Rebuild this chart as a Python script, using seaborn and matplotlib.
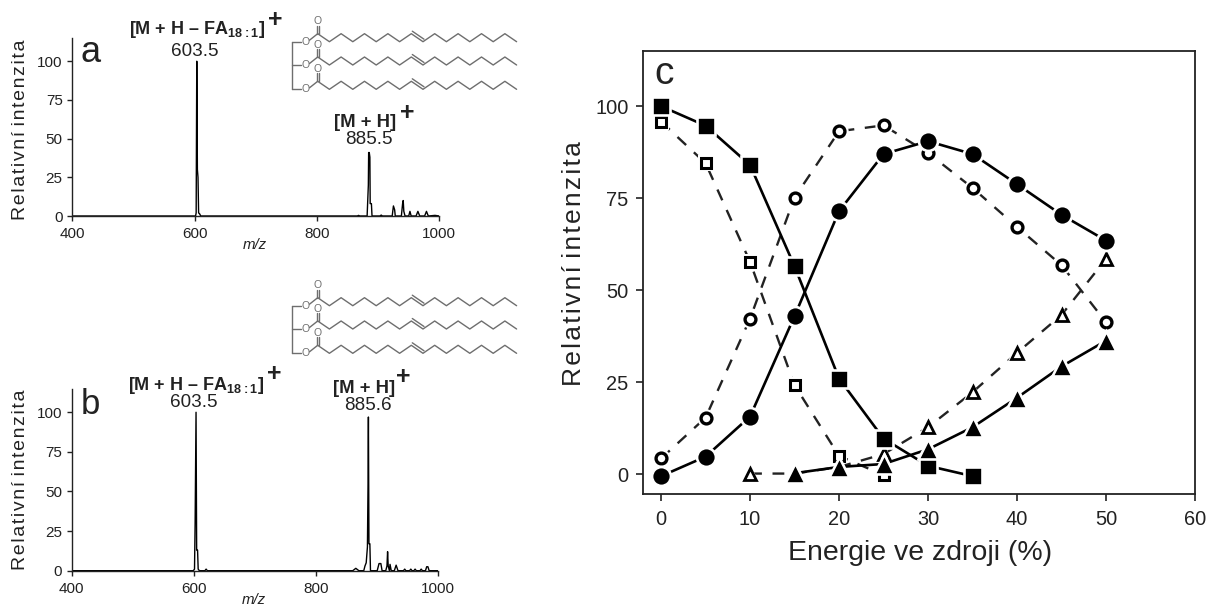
import matplotlib
matplotlib.use('Agg')
import matplotlib.pyplot as plt
import seaborn as sns

# panel a spectrum
mz_a = [400, 600, 601.5, 602.5, 603.5, 604.5, 605.5, 606.5, 608, 610, 866, 868, 870, 882, 884, 884.5, 885.5, 886.5, 887,
        889, 890, 903, 905, 907, 923, 925, 927, 928, 938, 940, 941, 942, 944, 950, 952, 954, 962, 965, 968, 976, 979,
        982, 993, 1000]
int_a = [0, 0, 0, 2, 100, 30, 25, 2, 1.5, 0, 0, 0.4, 0, 0, 20, 41, 41, 38, 8,
         8, 0, 0, 0.6, 0, 0, 6.5, 4, 0, 0, 8, 10, 3, 0, 0, 3, 0, 0, 3, 0, 0, 3,
         0, 0.4, 0]

# panel b spectrum
mz_b = [400, 599, 601, 602, 603.5, 604.5, 606, 607, 609, 618, 620, 622, 860, 865, 870, 878, 880, 882, 884, 885, 885.6,
        886.5, 888, 889, 900, 903, 906, 908, 914, 916, 917, 918, 920, 921, 923, 928, 931, 934, 943, 945, 947, 953, 955,
        957, 960, 962, 964, 970, 972, 974, 979, 981, 983, 985, 1000]
int_b = [0, 0, 1, 30, 100, 13, 13, 1, 0, 0, 1, 0, 0, 1.5, 0, 0, 3, 5, 15, 55, 97,
         17, 17, 0, 0, 4.5, 4.5, 0, 0, 3, 12, 3, 0, 4, 0, 0, 3.5, 0, 0, 1, 0, 0, 1,
         0, 0, 1, 0, 0, 1, 0, 0, 2.5, 2.5, 0, 0]

spec_xticks = [400, 600, 800, 1000]
spec_yticks = [0, 25, 50, 75, 100]

# panel c series
energy_sq_f = [0, 5, 10, 15, 20, 25, 30, 35]
sq_filled = [100, 94.7, 84, 56.5, 26, 9.7, 2.3, -0.5]
energy_sq_o = [0, 5, 10, 15, 20, 25]
sq_open = [95.8, 84.5, 57.7, 24.2, 5, -0.2]
energy_ci = [0, 5, 10, 15, 20, 25, 30, 35, 40, 45, 50]
ci_filled = [-0.5, 4.8, 15.7, 43, 71.5, 87, 90.5, 87, 78.8, 70.5, 63.5]
ci_open = [4.3, 15.4, 42.3, 75.2, 93.2, 94.8, 87.3, 77.8, 67.2, 56.8, 41.3]
energy_tr_f = [15, 20, 25, 30, 35, 40, 45, 50]
tr_filled = [0.3, 2, 2.8, 6.8, 12.8, 20.8, 29.3, 36.3]
energy_tr_o = [10, 15, 20, 25, 30, 35, 40, 45, 50]
tr_open = [0.2, 0.2, 2, 5.5, 12.8, 22.3, 33, 43.3, 58.5]

y_title = 'R\u200ae\u200al\u200aa\u200at\u200ai\u200av\u200an\u200aí i\u200an\u200at\u200ae\u200an\u200az\u200ai\u200at\u200aa'

sns.set_style('ticks')
plt.rcParams['font.family'] = ['Liberation Sans', 'DejaVu Sans']
plt.rcParams['mathtext.fontset'] = 'custom'
plt.rcParams['mathtext.bf'] = 'Liberation Sans:bold'

W, H = 1206, 605
INK = '#222222'
GREY = '#6e6e6e'


def axes_px(left, top, right, bottom):
    ax = fig.add_axes([left / W, 1 - bottom / H, (right - left) / W, (bottom - top) / H])
    ax.box_px = (left, top, right, bottom)
    return ax


def ylabel_at(ax, x_px, y_px):
    left, top, right, bottom = ax.box_px
    ax.yaxis.set_label_coords((x_px - left) / (right - left), (bottom - y_px) / (bottom - top))
    ax.yaxis.label.set_va('center')


def spectrum(ax, mz, intensity, label_y):
    sns.lineplot(x=mz, y=intensity, ax=ax, color='black', linewidth=1.0, estimator=None, sort=False)
    ax.set_xlim(400, 1000)
    ax.set_ylim(0, 115)
    ax.set_xticks(spec_xticks)
    ax.set_yticks(spec_yticks)
    ax.tick_params(labelsize=11, length=3.4, width=1, color=INK, labelcolor=INK)
    ax.tick_params(axis='x', pad=4.5)
    ax.tick_params(axis='y', pad=3.5)
    ax.set_ylabel(y_title, fontsize=14, color=INK)
    ylabel_at(ax, 20.5, label_y)
    ax.set_xlabel('')
    ax.patch.set_alpha(0)
    sns.despine(ax=ax)
    for s in ax.spines.values():
        s.set_color(INK)
        s.set_linewidth(1)


def molecule(ov, dy):
    # triacylglycerol sketch, drawn in pixels on the overlay
    rows = [41.7, 65, 89.3]
    ov.plot([292.3, 292.3], [rows[0] + dy, rows[2] + dy], color=GREY, lw=1)
    for y0 in rows:
        y = y0 + dy
        ov.plot([292.3, 301], [y, y], color=GREY, lw=1)
        ov.text(305.7, y, 'O', ha='center', va='center', fontsize=7.5, color=GREY)
        ov.plot([309.5, 317.7], [y - 1.5, y - 8], color=GREY, lw=1)
        ov.plot([316.7, 316.7], [y - 8, y - 16], color=GREY, lw=1)
        ov.plot([318.7, 318.7], [y - 8, y - 16], color=GREY, lw=1)
        ov.text(317.7, y - 20.5, 'O', ha='center', va='center', fontsize=7.5, color=GREY)
        xs = [317.7 + 11.7 * i for i in range(18)]
        ys = [y - 8 if i % 2 == 0 else y for i in range(18)]
        ov.plot(xs, ys, color=GREY, lw=1)
        # second stroke of the double bond
        ov.plot([xs[8] + 1, xs[9] + 1], [ys[8] - 2.5, ys[9] - 2.5], color=GREY, lw=1)


def open_series(ax, x, y, marker, size, edge):
    # line with a white collar round the markers, then the hollow marker on top
    sns.lineplot(x=x, y=y, ax=ax, color=INK, linewidth=1.7, linestyle=(0, (5, 4.5)), marker=marker,
                 markersize=size + edge + 3, markerfacecolor='white', markeredgecolor='white',
                 markeredgewidth=0, errorbar=None)
    sns.lineplot(x=x, y=y, ax=ax, color=INK, linewidth=0, marker=marker, markersize=size,
                 markerfacecolor='white', markeredgecolor='black', markeredgewidth=edge, errorbar=None)


def filled_series(ax, x, y, marker, size):
    sns.lineplot(x=x, y=y, ax=ax, color='black', linewidth=1.9, marker=marker, markersize=size,
                 markerfacecolor='black', markeredgecolor='white', markeredgewidth=1.9, errorbar=None)


fig = plt.figure(figsize=(W / 100, H / 100), dpi=100)

ax_a = axes_px(72.3, 38, 439.3, 216)
spectrum(ax_a, mz_a, int_a, 129.5)
ax_b = axes_px(71.7, 388.5, 438.3, 570.7)
spectrum(ax_b, mz_b, int_b, 480)

# panel c
ax_c = axes_px(643.3, 51, 1195, 494)
open_series(ax_c, energy_sq_o, sq_open, 's', 6.7, 2.2)
open_series(ax_c, energy_ci, ci_open, 'o', 7.8, 2.4)
open_series(ax_c, energy_tr_o, tr_open, '^', 9, 2)
filled_series(ax_c, energy_sq_f, sq_filled, 's', 13)
filled_series(ax_c, energy_ci, ci_filled, 'o', 13.6)
filled_series(ax_c, energy_tr_f, tr_filled, '^', 14.5)
ax_c.set_xlim(-2, 60)
ax_c.set_ylim(-5.35, 115)
ax_c.set_xticks(range(0, 61, 10))
ax_c.set_yticks(spec_yticks)
ax_c.tick_params(labelsize=14.4, length=5, width=1.2, color=INK, labelcolor=INK)
ax_c.tick_params(axis='x', pad=6.5)
ax_c.tick_params(axis='y', pad=5.5)
ax_c.set_xlabel('Energie ve zdroji (%)', fontsize=20.5, color=INK, va='center')
ax_c.xaxis.set_label_coords((920.5 - 643.3) / (1195 - 643.3), (494 - 553) / (494 - 51))
ax_c.set_ylabel(y_title, fontsize=19, color=INK)
ylabel_at(ax_c, 574.4, 264)
for s in ax_c.spines.values():
    s.set_color(INK)
    s.set_linewidth(1.3)

# pixel overlay for annotations
ov = fig.add_axes([0, 0, 1, 1])
ov.set_xlim(0, W)
ov.set_ylim(H, 0)
ov.axis('off')
molecule(ov, 0)
molecule(ov, 264)

label_ion = r'[M + H – FA$_{\mathbf{18{:}1}}$]'
bold = dict(fontweight='bold', color=INK, va='baseline', ha='left')
plus = dict(fontweight='bold', color=INK, va='center', ha='center', fontsize=18)
value = dict(ha='center', va='center', fontsize=13.6, color=INK)
ov.text(129.4, 34.5, label_ion, fontsize=13, **bold)
ov.text(275, 19.6, '+', **plus)
ov.text(334.5, 126.7, '[M + H]', fontsize=13.3, **bold)
ov.text(407, 113, '+', **plus)
ov.text(128.3, 389.5, label_ion, fontsize=13, **bold)
ov.text(274, 374, '+', **plus)
ov.text(333, 393, '[M + H]', fontsize=13.3, **bold)
ov.text(403, 377, '+', **plus)

ov.text(195, 51, '603.5', **value)
ov.text(369, 140, '885.5', **value)
ov.text(194, 402.5, '603.5', **value)
ov.text(367.7, 405, '885.6', **value)
ov.text(90.7, 52, 'a', ha='center', va='center', fontsize=26, color=INK)
ov.text(90.5, 404, 'b', ha='center', va='center', fontsize=25, color=INK)
ov.text(664, 74, 'c', ha='center', va='center', fontsize=28, color=INK)
ov.text(255, 245, 'm/z', ha='center', va='center', fontsize=10.8, fontstyle='italic', color=INK)
ov.text(254, 600, 'm/z', ha='center', va='center', fontsize=10.8, fontstyle='italic', color=INK)

fig.savefig('out.png', dpi=100)
